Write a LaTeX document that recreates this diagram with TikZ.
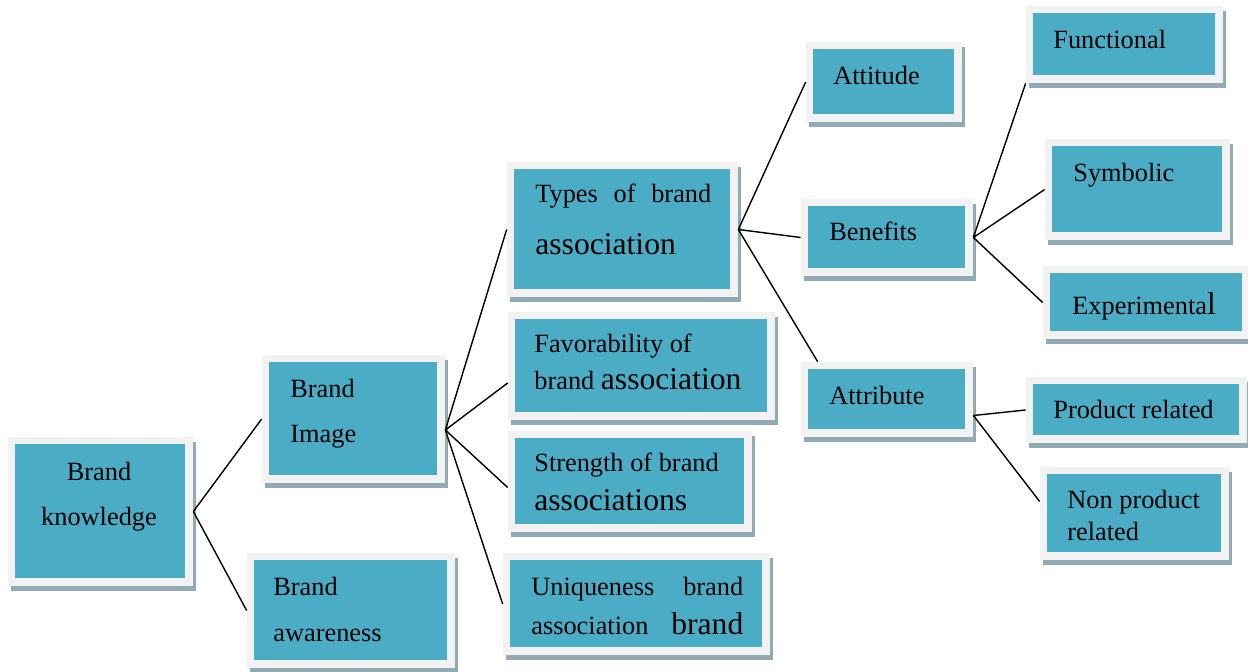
\documentclass[tikz,border=0pt]{standalone}
\usepackage{fontspec}
\setmainfont{Liberation Serif}
\usepackage{tikz}
\usetikzlibrary{calc,fit}
\definecolor{boxface}{HTML}{4BACC6}
\definecolor{boxedge}{HTML}{F2F2F2}
\definecolor{boxshade}{HTML}{92AAB4}
\newcommand{\brandbox}[5]{%
  \fill[boxshade] (#2+3,#3+5) rectangle (#4+3,#5+5);
  \node[fit={(#2,#3) (#4,#5)}, inner sep=0pt, fill=boxedge] (#1) {};
  \fill[boxface] (#2+7,#3+7) rectangle (#4-8,#5-8);}
\newcommand{\bigword}[1]{{\fontsize{18}{18}\selectfont #1}}
\tikzset{
  lbl/.style={anchor=north west, inner sep=0pt, align=left, font=\fontsize{15}{#1}\selectfont},
  lbl/.default=25.5,
  link/.style={line width=0.8pt}
}
\begin{document}
\begin{tikzpicture}[x=0.02cm, y=-0.02cm]
\useasboundingbox (0,0) rectangle (1248,672);
\brandbox{knowledge}{8}{437}{193}{586}
\brandbox{awareness}{247}{553}{455}{668}
\brandbox{image}{262}{355}{445}{483}
\brandbox{types}{507}{162}{738}{297}
\brandbox{favor}{508}{312}{775}{420}
\brandbox{strength}{508}{431}{752}{532}
\brandbox{unique}{503}{553}{770}{655}
\brandbox{attitude}{806}{42}{962}{122}
\brandbox{benefits}{801}{199}{973}{276}
\brandbox{attribute}{801}{362}{973}{437}
\brandbox{functional}{1026}{6}{1223}{83}
\brandbox{symbolic}{1045}{139}{1230}{240}
\brandbox{experimental}{1043}{266}{1250}{339}
\brandbox{product}{1026}{377}{1247}{443}
\brandbox{nonproduct}{1040}{467}{1229}{560}

\node[lbl, anchor=north, align=center] (knowledge-t) at (99,462) {Brand\\knowledge};
\node[lbl=26] (awareness-t) at (273,577) {Brand\\awareness};
\node[lbl] (image-t) at (290,379) {Brand\\Image};
\node[lbl=29.2, text width=3.52cm] (types-t) at (535,184) {Types \hfill of \hfill brand\\\bigword{association}};
\node[lbl=20.6] (favor-t) at (534,334) {Favorability of\\brand \bigword{association}};
\node[lbl=21.8] (strength-t) at (534,453) {Strength of brand\\\bigword{associations}};
\node[lbl=22.4, text width=4.24cm] (unique-t) at (531,577) {Uniqueness \hfill brand\\association \hfill \bigword{brand}};
\node[lbl] (attitude-t) at (833,66) {Attitude};
\node[lbl] (benefits-t) at (829,222) {Benefits};
\node[lbl] (attribute-t) at (829,386) {Attribute};
\node[lbl] (functional-t) at (1053,30) {Functional};
\node[lbl] (symbolic-t) at (1073,163) {Symbolic};
\node[lbl] (experimental-t) at (1072,292) {Experimenta\bigword{l}};
\node[lbl] (product-t) at (1053,400) {Product related};
\node[lbl=18.2] (nonproduct-t) at (1067,490) {Non product\\related};

\draw[link] (knowledge.east) -- (image.west);
\draw[link] (knowledge.east) -- (awareness.west);
\draw[link] ($(image.east)+(0,11)$) -- (types.west);
\draw[link] ($(image.east)+(0,11)$) -- ($(favor.west)+(0,17)$);
\draw[link] ($(image.east)+(0,11)$) -- ($(strength.west)+(0,6)$);
\draw[link] ($(image.east)+(0,11)$) -- (unique.west);
\draw[link] (types.east) -- (attitude.west);
\draw[link] (types.east) -- (benefits.west);
\draw[link] (types.east) -- ($(attribute.north west)+(17,0)$);
\draw[link] (benefits.east) -- (functional.south west);
\draw[link] (benefits.east) -- (symbolic.west);
\draw[link] (benefits.east) -- (experimental.west);
\draw[link] ($(attribute.east)+(0,16)$) -- (product.west);
\draw[link] ($(attribute.east)+(0,16)$) -- ($(nonproduct.west)+(0,-12)$);
\end{tikzpicture}
\end{document}
